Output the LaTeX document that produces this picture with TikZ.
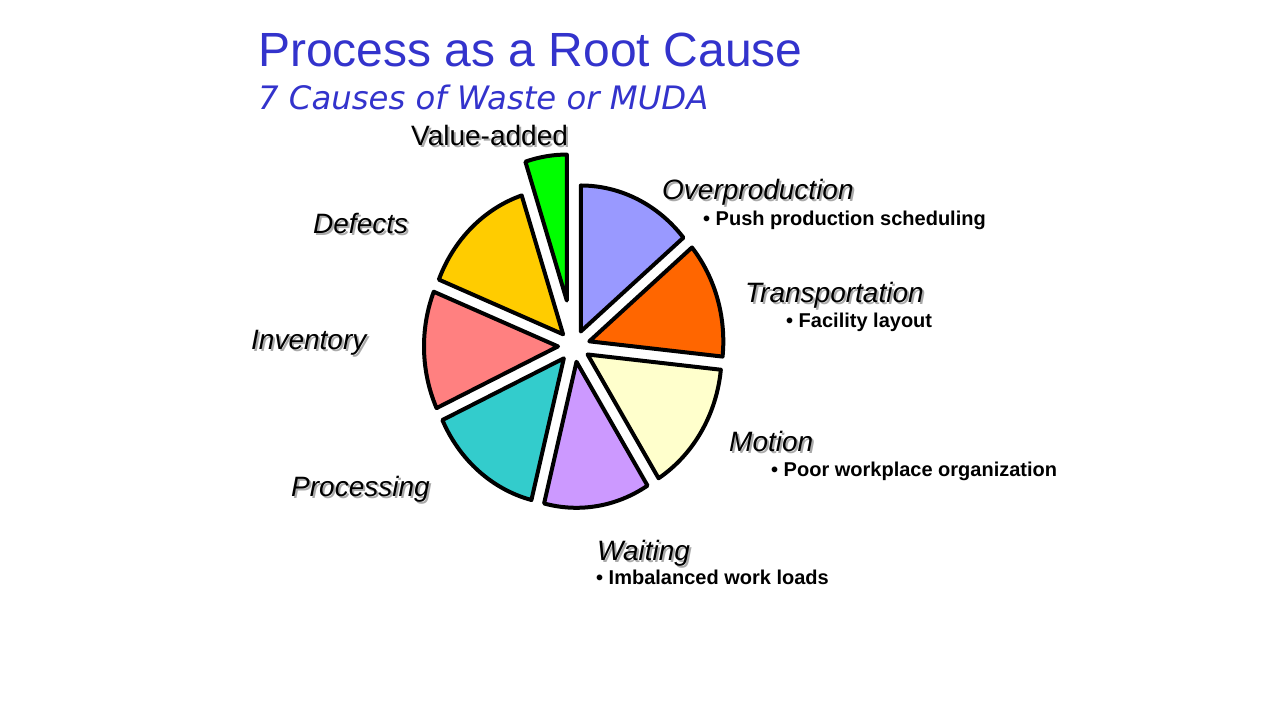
\documentclass[tikz,border=0pt]{standalone}
\usepackage{fontspec}
\setmainfont{Liberation Sans}
\newfontfamily\subfont{DejaVu Sans}
\definecolor{titleblue}{RGB}{51,51,204}
\definecolor{shadowgray}{RGB}{170,170,170}
\definecolor{vagreen}{RGB}{0,255,0}
\definecolor{defgold}{RGB}{255,204,0}
\definecolor{invpink}{RGB}{255,128,128}
\definecolor{proteal}{RGB}{51,204,204}
\definecolor{waitlilac}{RGB}{204,153,255}
\definecolor{motcream}{RGB}{255,255,204}
\definecolor{transorange}{RGB}{255,102,0}
\definecolor{overblue}{RGB}{153,153,255}
\newcommand\shadowtext[1]{\rlap{\hspace{2pt}\raisebox{-2pt}{\color{shadowgray}#1}}#1}

\begin{document}
\begin{tikzpicture}[x=1pt,y=1pt,
    slice/.style={draw=black,line width=4pt,line join=round},
    cause/.style={anchor=base west,inner sep=0pt,font=\fontsize{28}{30}\selectfont\itshape},
    reason/.style={anchor=base west,inner sep=0pt,font=\fontsize{20}{22}\selectfont\bfseries}]
  \useasboundingbox (0,0) rectangle (1280,720);

  \node[anchor=base west,inner sep=0pt,text=titleblue,font=\fontsize{48}{50}\selectfont] (title) at (258,653) {Process as a Root Cause};
  \node[anchor=base west,inner sep=0pt,text=titleblue,font=\subfont\itshape\fontsize{32.3}{34}\selectfont] (subtitle) at (258,610) {7 Causes of Waste or MUDA};

  % exploded pie
  \coordinate (c) at (574,374);
  \foreach \a/\b/\d/\col in {90/108/46/vagreen, 108/158/16/defgold, 158/205/16/invpink,
      205/256/16/proteal, 256/302/16/waitlilac, 302/354/16/motcream,
      -6/40/16/transorange, 40/90/16/overblue}
    \filldraw[slice,fill=\col] (c) ++({(\a+\b)/2}:\d) -- ++(\a:134 and 146)
      arc[start angle=\a,end angle=\b,x radius=134,y radius=146] -- cycle;

  \node[cause,font=\fontsize{28}{30}\selectfont] (value) at (411,574) {\shadowtext{Value-added}};
  \node[cause] (over) at (662,520) {\shadowtext{Overproduction}};
  \node[reason] (push) at (703,494) {• Push production scheduling};
  \node[cause] (trans) at (745,417) {\shadowtext{Transportation}};
  \node[reason] (layout) at (786,392) {• Facility layout};
  \node[cause] (motion) at (729,268) {\shadowtext{Motion}};
  \node[reason] (poor) at (771,243) {• Poor workplace organization};
  \node[cause] (waiting) at (597,159) {\shadowtext{Waiting}};
  \node[reason] (loads) at (596,135) {• Imbalanced work loads};
  \node[cause] (defects) at (313,486) {\shadowtext{Defects}};
  \node[cause] (inventory) at (251,370) {\shadowtext{Inventory}};
  \node[cause] (processing) at (291,223) {\shadowtext{Processing}};
\end{tikzpicture}
\end{document}
